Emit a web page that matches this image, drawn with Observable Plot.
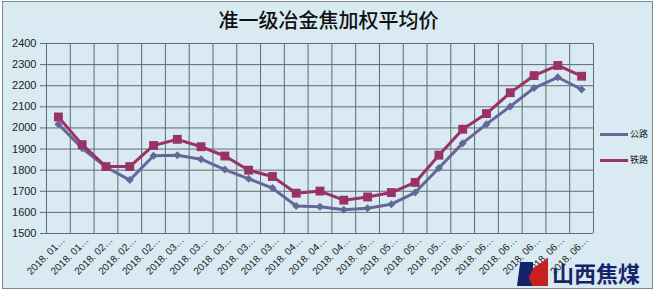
<!DOCTYPE html>
<html>
<head>
<meta charset="utf-8">
<script src="https://cdn.jsdelivr.net/npm/d3@7"></script>
<script src="https://cdn.jsdelivr.net/npm/@observablehq/plot@0.6"></script>
<style>
  html, body { margin: 0; padding: 0; background: #ffffff; }
  #wrap { position: relative; width: 657px; height: 293px; overflow: hidden; }
  #box { position: absolute; left: 2px; top: 1px; width: 649px; height: 286px;
         border: 1px solid #7d8a92; background: #d9eaf3; }
  #title { position: absolute; left: 0; width: 657px; top: 5px; text-align: center;
           font-family: "Noto Sans CJK SC", sans-serif; font-size: 20px; font-weight: 500; color: #111; }
  #chart { position: absolute; left: 0; top: 0; }
  .leg { position: absolute; left: 600px; font-family: "Noto Sans CJK SC", sans-serif; font-size: 9px; color: #222; }
  .leg span.ln { display: inline-block; width: 28px; height: 3px; vertical-align: middle; margin-right: 2px; }
  #logo { position: absolute; left: 515px; top: 258px; width: 135px; height: 28px; }
  #logo .navy { position: absolute; left: 2px; top: 4px; width: 16px; height: 24px; background: #15236b;
                clip-path: polygon(20% 0, 100% 0, 100% 100%, 0 100%); }
  #logo .red { position: absolute; left: 9px; top: 0px; width: 24px; height: 28px; background: #c8201e;
               clip-path: polygon(100% 0, 100% 100%, 35% 100%, 20% 70%, 40% 35%); }
  #logo .txt { position: absolute; left: 37px; top: 0px; font-family: "Noto Sans CJK SC", sans-serif;
               font-size: 22px; font-weight: 700; color: #16246a; letter-spacing: 0px; line-height: 28px; }
</style>
</head>
<body>
<div id="wrap">
  <div id="box"></div>
  <div id="title">准一级冶金焦加权平均价</div>
  <div id="chart"></div>
  <div class="leg" style="top:127px"><span class="ln" style="background:#666699"></span>公路</div>
  <div class="leg" style="top:153px"><span class="ln" style="background:#993366"></span>铁路</div>
  <div id="logo"><div class="navy"></div><div class="red"></div><div class="txt">山西焦煤</div></div>
</div>
<script>
const labels = [
  "2018. 01…","2018. 01…",
  "2018. 02…","2018. 02…","2018. 02…",
  "2018. 03…","2018. 03…","2018. 03…","2018. 03…","2018. 03…",
  "2018. 04…","2018. 04…","2018. 04…",
  "2018. 05…","2018. 05…","2018. 05…","2018. 05…",
  "2018. 06…","2018. 06…","2018. 06…","2018. 06…","2018. 06…","2018. 06…"
];
const highway = [2018, 1904, 1815, 1753, 1868, 1871, 1852, 1803, 1759, 1715, 1630, 1627, 1612, 1620, 1639, 1694, 1810, 1928, 2018, 2102, 2189, 2240, 2182];
const railway = [2052, 1921, 1817, 1817, 1917, 1946, 1911, 1867, 1800, 1770, 1691, 1701, 1658, 1673, 1694, 1742, 1871, 1994, 2068, 2167, 2248, 2296, 2245];
const yTicks = [1500, 1600, 1700, 1800, 1900, 2000, 2100, 2200, 2300, 2400];
const seriesNames = ["公路", "铁路"];
const seriesColors = ["#666699", "#993366"];

const hw = highway.map((v, i) => ({x: i + 0.5, v}));
const rw = railway.map((v, i) => ({x: i + 0.5, v}));
const n = labels.length;
const gridColor = "#5d6b73";

const chart = Plot.plot({
  width: 657,
  height: 293,
  marginLeft: 46,
  marginRight: 64,
  marginTop: 43,
  marginBottom: 60,
  style: {background: "transparent", fontFamily: "Liberation Sans, sans-serif", fontSize: "11px", color: "#222"},
  x: {type: "linear", domain: [0, n], axis: null},
  y: {domain: [yTicks[0], yTicks[yTicks.length - 1]], axis: null},
  marks: [
    Plot.gridX(d3.range(0, n + 1), {stroke: gridColor, strokeOpacity: 1, strokeWidth: 1}),
    Plot.gridY(yTicks, {stroke: gridColor, strokeOpacity: 1, strokeWidth: 1}),
    Plot.axisY(yTicks, {tickSize: 6, tickPadding: 4, stroke: gridColor, fontSize: 11, label: null, tickFormat: d => String(d)}),
    Plot.axisX(d3.range(n).map(i => i + 0.5), {
      tickFormat: d => labels[Math.floor(d)], tickRotate: -45, tickSize: 0, tickPadding: 5, dx: 5, fontSize: 10, label: null
    }),
    Plot.line(hw, {x: "x", y: "v", stroke: seriesColors[0], strokeWidth: 3}),
    Plot.dot(hw, {x: "x", y: "v", symbol: "diamond2", r: 3.6, fill: seriesColors[0], stroke: null}),
    Plot.line(rw, {x: "x", y: "v", stroke: seriesColors[1], strokeWidth: 3}),
    Plot.dot(rw, {x: "x", y: "v", symbol: "square", r: 5, fill: seriesColors[1], stroke: null})
  ]
});
document.getElementById("chart").appendChild(chart);
</script>
</body>
</html>
